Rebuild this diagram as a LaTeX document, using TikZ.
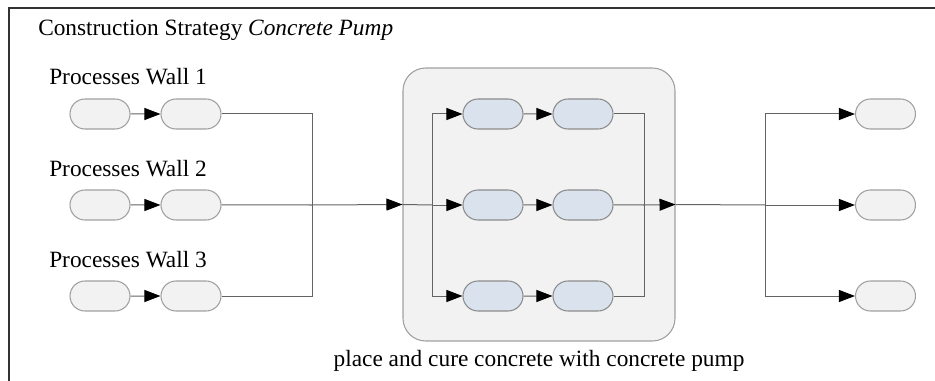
\documentclass[tikz,border=0pt]{standalone}
\usepackage{fontspec}
\setmainfont{Liberation Serif}
\usetikzlibrary{shapes.misc,arrows.meta}
\definecolor{pillfill}{RGB}{242,242,242}
\definecolor{pilldraw}{RGB}{160,160,160}
\definecolor{bluefill}{RGB}{218,227,237}
\definecolor{bluedraw}{RGB}{140,140,140}
\definecolor{wire}{RGB}{100,100,100}
\definecolor{framec}{RGB}{50,50,50}
\tikzset{
  pill/.style={rounded rectangle, draw=pilldraw, fill=pillfill, line width=0.8pt,
    minimum width=45pt, minimum height=22.5pt, inner sep=0pt},
  bluepill/.style={pill, draw=bluedraw, fill=bluefill},
  wireline/.style={draw=wire, line width=0.75pt},
  flow/.style={wireline, -{Triangle[length=12pt,width=9pt,color=black]}},
  lbl/.style={font=\fontsize{17.5}{20}\selectfont, inner sep=0pt},
  group/.style={draw=pilldraw, fill=pillfill, line width=0.8pt, rounded corners=17pt,
    minimum width=204pt, minimum height=204.75pt, inner sep=0pt},
}
\begin{document}
\begin{tikzpicture}[x=0.75pt,y=-0.75pt]
\useasboundingbox (0,0) rectangle (935,381);
% open frame: top and left edges
\draw[framec, line width=1.5pt] (9,381) -- (9,8) -- (935,8);
\node[lbl, anchor=base west] (title) at (38,36) {Construction Strategy \textit{Concrete Pump}};

% wall process chains
\node[lbl, anchor=base west] (w1) at (49,85) {Processes Wall 1};
\node[lbl, anchor=base west] (w2) at (49,176) {Processes Wall 2};
\node[lbl, anchor=base west] (w3) at (49,267) {Processes Wall 3};
\node[pill] (l1a) at (100,114) {};
\node[pill] (l1b) at (191,114) {};
\node[pill] (l2a) at (100,205) {};
\node[pill] (l2b) at (191,205) {};
\node[pill] (l3a) at (100,296) {};
\node[pill] (l3b) at (191,296) {};

% concrete pump group
\node[group] (box) at (539,204.5) {};
\node[lbl, anchor=base] (boxlbl) at (539,366) {place and cure concrete with concrete pump};
\node[bluepill] (b1a) at (493,114) {};
\node[bluepill] (b1b) at (583,114) {};
\node[bluepill] (b2a) at (493,205) {};
\node[bluepill] (b2b) at (583,205) {};
\node[bluepill] (b3a) at (493,296) {};
\node[bluepill] (b3b) at (583,296) {};

% following processes
\node[pill] (r1) at (885.5,114) {};
\node[pill] (r2) at (885.5,205) {};
\node[pill] (r3) at (885.5,296) {};

% junction points
\coordinate (jl) at (312,205);
\coordinate (ji) at (432,205);
\coordinate (jo) at (644,205);
\coordinate (jr) at (765,205);

% connectors
\draw[flow] (l1a) -- (l1b);
\draw[flow] (l2a) -- (l2b);
\draw[flow] (l3a) -- (l3b);
\draw[wireline] (l1b) -| (jl);
\draw[wireline] (l3b) -| (jl);
\draw[wireline] (l2b) -- (jl);
\draw[flow] (jl) -- (box.west);
\draw[wireline] (box.west) -- (ji);
\draw[flow] (ji) |- (b1a);
\draw[flow] (ji) -- (b2a);
\draw[flow] (ji) |- (b3a);
\draw[flow] (b1a) -- (b1b);
\draw[flow] (b2a) -- (b2b);
\draw[flow] (b3a) -- (b3b);
\draw[wireline] (b1b) -| (jo);
\draw[wireline] (b3b) -| (jo);
\draw[wireline] (b2b) -- (jo);
\draw[flow] (jo) -- (box.east);
\draw[wireline] (box.east) -- (jr);
\draw[flow] (jr) |- (r1);
\draw[flow] (jr) -- (r2);
\draw[flow] (jr) |- (r3);
\end{tikzpicture}
\end{document}
